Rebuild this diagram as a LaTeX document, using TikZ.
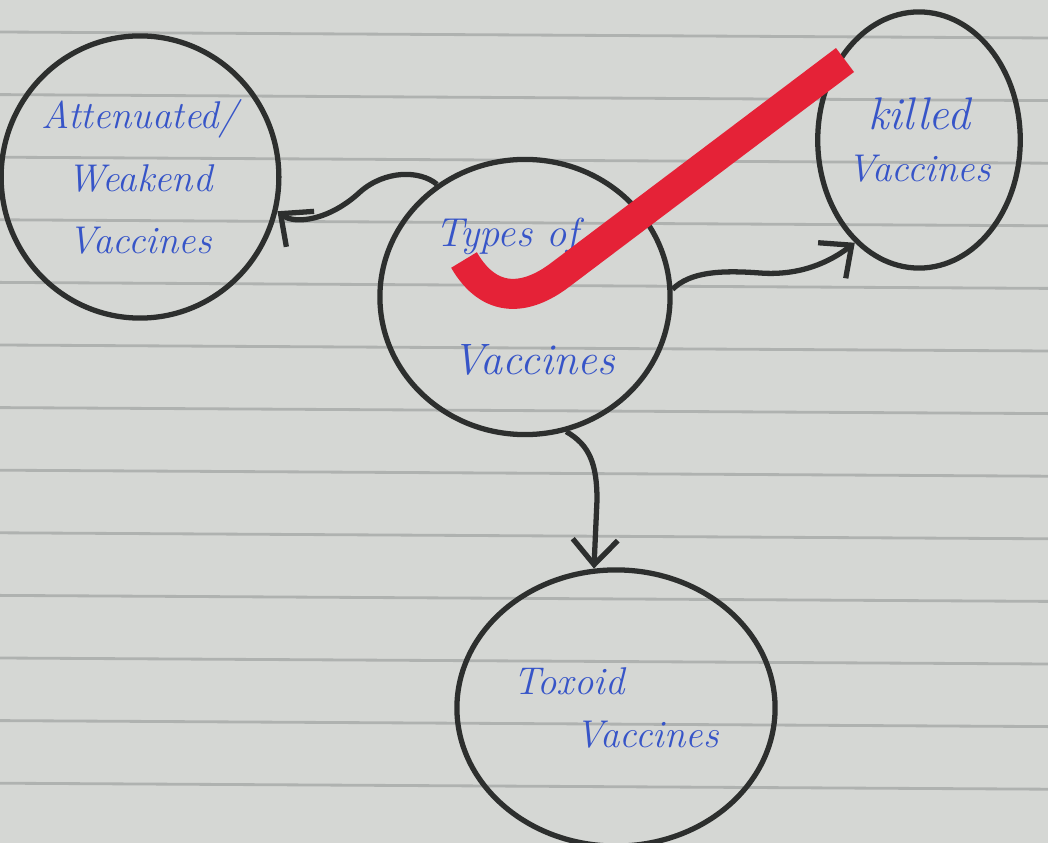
\documentclass[tikz,border=0pt]{standalone}
\usepackage{tikz}
\usetikzlibrary{shapes,arrows.meta,calc}
\definecolor{paper}{RGB}{213,215,212}
\definecolor{ruleline}{RGB}{175,178,176}
\definecolor{pencil}{RGB}{45,47,46}
\definecolor{inkblue}{RGB}{55,85,200}
\definecolor{tickred}{RGB}{229,34,55}
\tikzset{
  bubble/.style={ellipse,draw=pencil,line width=1.5pt,inner sep=0pt,align=center,
    text=inkblue,font=\fontsize{11}{15}\selectfont\itshape},
  link/.style={draw=pencil,line width=1.5pt,-{Straight Barb[length=2.5mm,width=4.5mm]}},
}
\begin{document}
\begin{tikzpicture}[x=0.01cm,y=0.01cm]
\fill[paper](0,0)rectangle(1048,-843);
\useasboundingbox(0,0)rectangle(1048,-843);
% ruled lines of the page
\foreach \k in {0,...,12}
  \draw[ruleline,line width=0.8pt](0,{-32-62.6*\k})--(1048,{-38-62.6*\k});

\node[bubble,minimum width=2.9cm,minimum height=2.75cm,align=left,font=\fontsize{12.5}{15}\selectfont\itshape](types)at(525,-297){{\fontsize{11.5}{15}\selectfont Types of}\\[0.75cm]\hspace*{0.17cm}Vaccines};
\node[bubble,minimum width=2.64cm,minimum height=2.82cm](attenuated)at(140,-177){Attenuated/\\[0.1cm]Weakend\\[0.1cm]Vaccines};
\node[bubble,minimum width=2.02cm,minimum height=2.56cm,font=\fontsize{11}{15}\selectfont\itshape](killed)at(919,-140){\fontsize{13}{15}\selectfont killed\\Vaccines};
\node[bubble,minimum width=3.18cm,minimum height=2.76cm,align=left](toxoid)at(616,-708){Toxoid\\\hspace*{0.62cm}Vaccines};

% arrows out of the middle
\draw[link](types.128)..controls(420,-170)and(385,-170)..(360,-192)..controls(330,-220)and(295,-225)..(attenuated.-14);
\draw[link](types.3)..controls(690,-272)and(720,-270)..(760,-273)..controls(800,-276)and(830,-262)..(killed.238);
\draw[link](types.-73)..controls(590,-445)and(597,-465)..(597,-500)--(toxoid.99);

% red tick
\draw[tickred,line width=0.3cm](464,-260)..controls(490,-305)and(527,-300)..(560,-275)--(845,-60);

\end{tikzpicture}
\end{document}
